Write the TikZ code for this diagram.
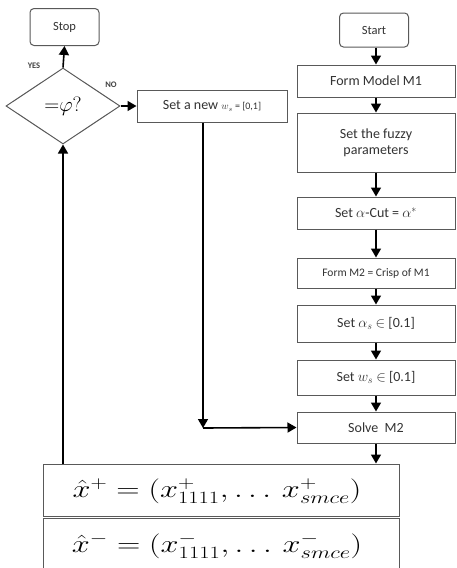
\documentclass[tikz,border=0pt]{standalone}
\usepackage{fontspec}
\setmainfont{Carlito}
\usetikzlibrary{shapes.geometric,arrows.meta}
\begin{document}
\begin{tikzpicture}[x=1pt,y=-1pt,
  box/.style={draw=black!65, line width=1pt, fill=white, text=black!80, align=center, inner sep=0pt, font=\fontsize{14}{16}\selectfont},
  term/.style={box, rounded corners=4pt, font=\fontsize{12.5}{14}\selectfont},
  arr/.style={draw=black, line width=1.6pt, -{Triangle[width=10pt,length=9pt]}},
  lbl/.style={font=\bfseries\fontsize{8.5}{10}\selectfont, text=black!75, inner sep=0pt},
  formula/.style={text=black, font=\fontsize{23}{26}\selectfont, inner sep=0pt}]
\useasboundingbox (0,0) rectangle (456,568);
% left part
\node[term, minimum width=69pt, minimum height=37pt] (stop) at (64.5,27) {Stop};
\node[draw=black!65, line width=1pt, shape=diamond, minimum width=114pt, minimum height=76pt, inner sep=0pt] (dia) at (63,106) {\fontsize{22}{24}\selectfont${=}\varphi?$};
\node[lbl] (yes) at (34,66) {YES};
\node[lbl] (no) at (111,85) {NO};
\node[box, minimum width=150pt, minimum height=32pt] (new) at (212,106) {Set a new {\fontsize{10}{12}\selectfont$w_s$ = [0,1]}};
% right column
\node[term, minimum width=69pt, minimum height=34pt] (start) at (374,30) {Start};
\node[box, minimum width=158pt, minimum height=32pt] (m1) at (376,81) {Form Model M1};
\node[box, minimum width=158pt, minimum height=59pt] (fz) at (376,142.5) {Set the fuzzy\\parameters};
\node[box, minimum width=158pt, minimum height=32pt] (cut) at (376,213) {Set $\alpha$-Cut = $\alpha^{*}$};
\node[box, minimum width=158pt, minimum height=30pt, font=\fontsize{11.5}{13}\selectfont] (m2) at (376,273) {Form M2 = Crisp of M1};
\node[box, minimum width=158pt, minimum height=37pt] (as) at (376,323.5) {Set $\alpha_s$ $\in$ [0.1]};
\node[box, minimum width=158pt, minimum height=35pt] (ws) at (376,377.5) {Set $w_s$ $\in$ [0.1]};
\node[box, minimum width=158pt, minimum height=31pt] (solve) at (376,427.5) {Solve\ \ M2};
% result boxes
\node[box, minimum width=356pt, minimum height=52pt] (xp) at (221,490) {};
\node[formula] (xpt) at (217,491) {\scalebox{1.3}[1]{$\hat{x}^{+} = \bigl(x^{+}_{1111},\ldots\,x^{+}_{smce}\bigr)$}};
\node[box, minimum width=356pt, minimum height=80pt] (xm) at (221,558) {};
\node[formula] (xmt) at (217,546) {\scalebox{1.3}[1]{$\hat{x}^{-} = \bigl(x^{-}_{1111},\ldots\,x^{-}_{smce}\bigr)$}};
% connectors
\coordinate (corner) at (203,428);
\draw[arr] (dia.north) -- (stop.south);
\draw[arr] (dia.east) -- (new.west);
\draw[arr] (new.south -| corner) -- (corner);
\draw[arr] (corner) -- (solve.west);
\draw[arr] (start.south -| m1.north) -- (m1.north);
\draw[arr] (m1) -- (fz);
\draw[arr] (fz) -- (cut);
\draw[arr] (cut) -- (m2);
\draw[arr] (m2) -- (as);
\draw[arr] (as) -- (ws);
\draw[arr] (ws) -- (solve);
\draw[arr] (solve.south) -- (solve.south |- xp.north);
\draw[arr] (xp.north -| dia.south) -- (dia.south);
\end{tikzpicture}
\end{document}
